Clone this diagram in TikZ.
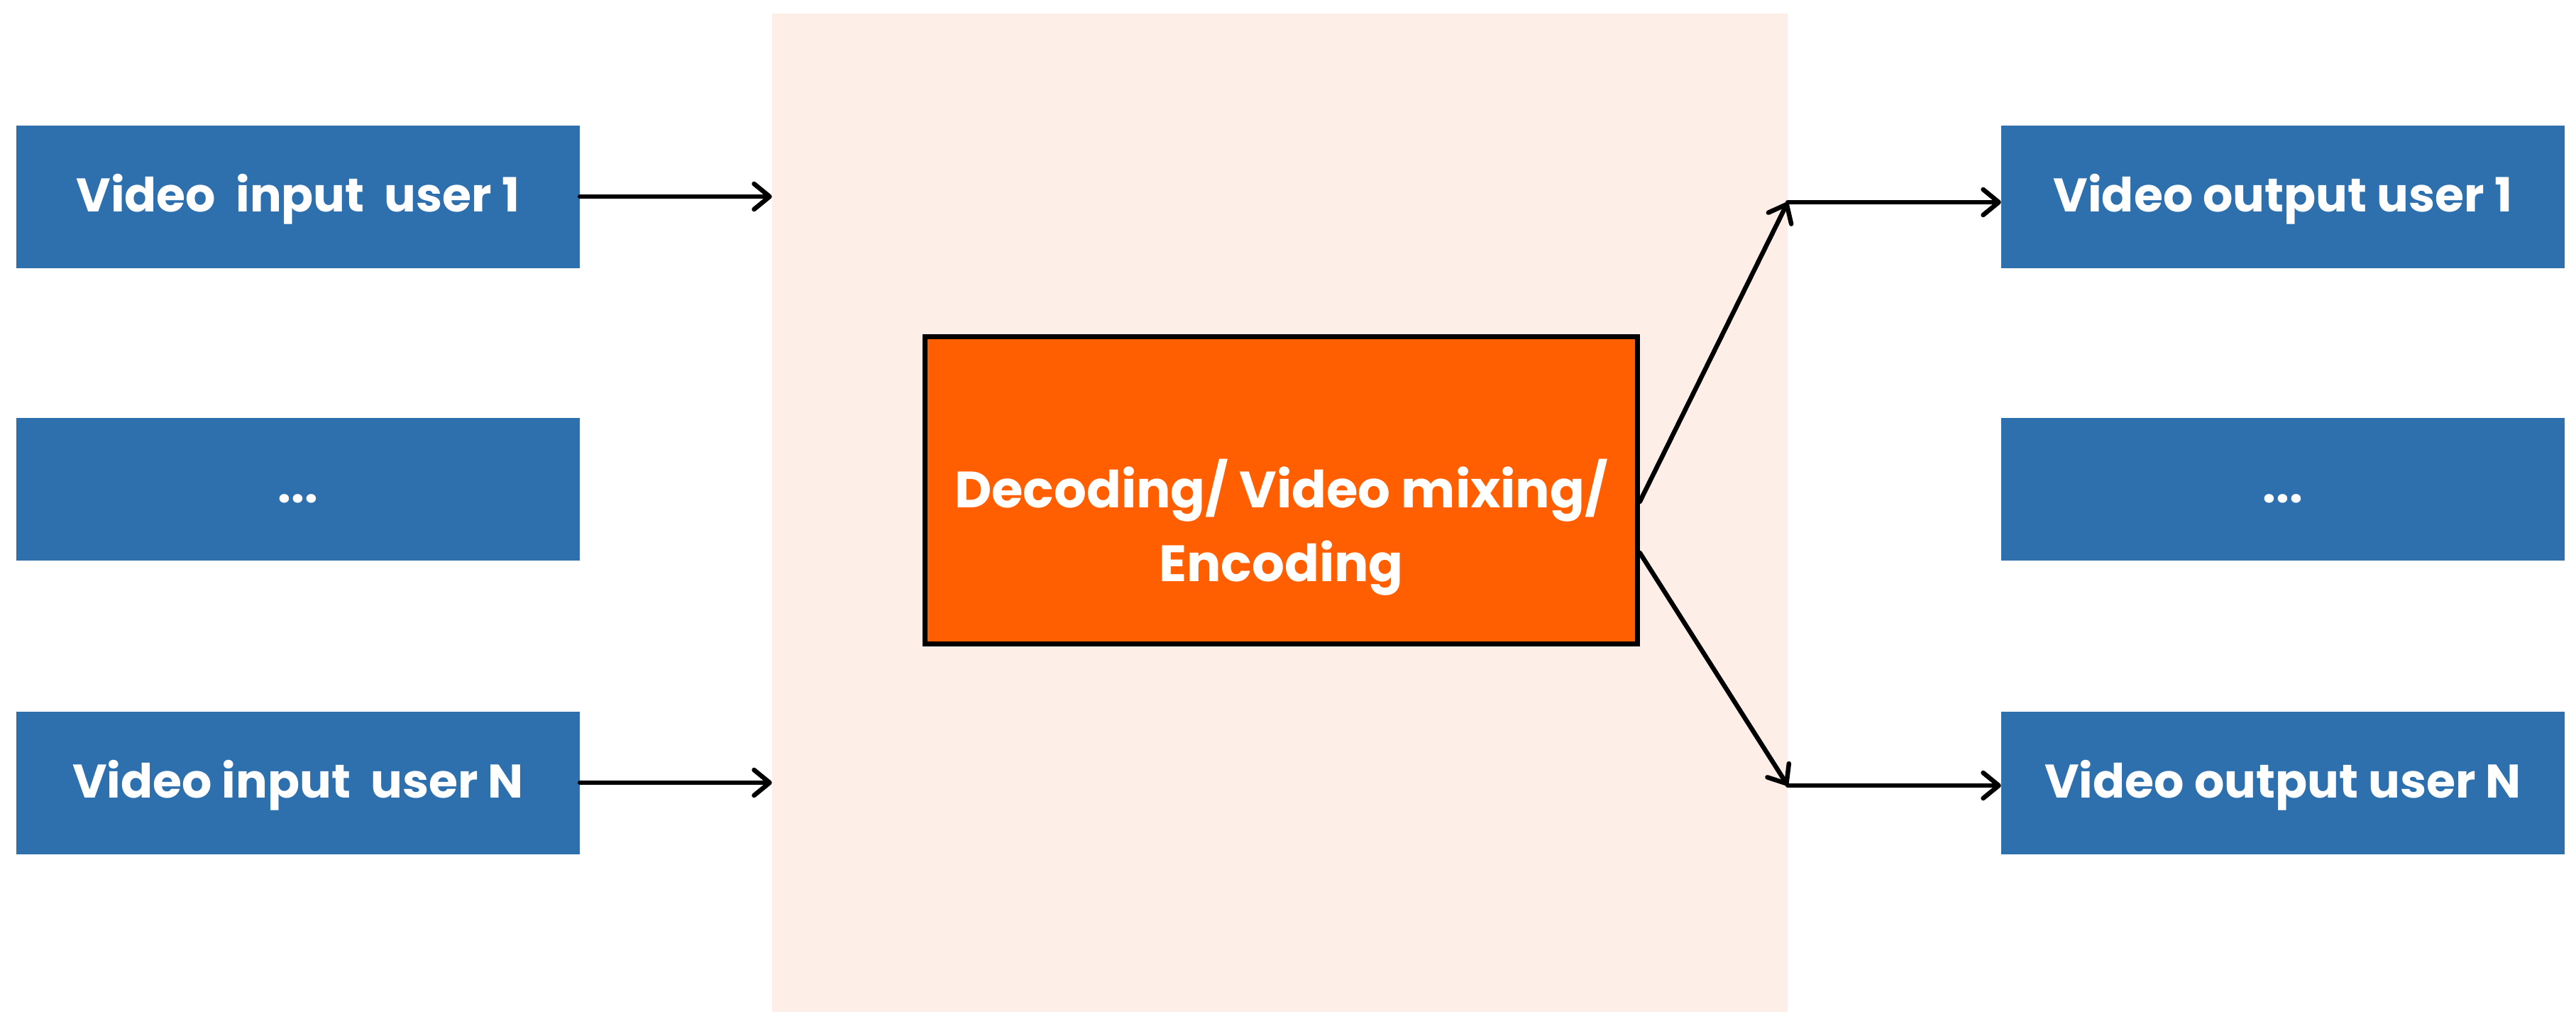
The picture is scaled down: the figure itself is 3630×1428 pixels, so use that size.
\documentclass[tikz,border=0pt]{standalone}
\usepackage{fontspec}
\setmainfont{Poppins}
\usetikzlibrary{arrows.meta,calc}
\definecolor{boxblue}{RGB}{46,112,173}
\definecolor{mixorange}{RGB}{255,95,0}
\definecolor{peach}{RGB}{253,239,232}
\tikzset{
  ubox/.style={fill=boxblue, draw=none, minimum width=794pt, minimum height=201pt, inner sep=0pt,
    text=white, font=\fontsize{66.5}{80}\selectfont\bfseries},
  boxtxt/.style={fill=none, draw=none, inner sep=0pt},
  conn/.style={line width=6.5pt, line cap=round, line join=round,
    -{Straight Barb[length=22pt,width=36pt,line width=6.5pt,round]}}
}
\begin{document}
\begin{tikzpicture}[x=1pt,y=-1pt]
\useasboundingbox (0,0) rectangle (3630,1428);
\fill[white] (0,0) rectangle (3630,1428);
\node[fill=peach, minimum width=1431pt, minimum height=1407pt, inner sep=0pt] (bg) at (1803.5,722.5) {};
\node[ubox] (in1) at (420,277) {};
\node[ubox] (ind) at (420,689) {};
\node[ubox] (inN) at (420,1103) {};
\node[ubox] (out1) at (3217,277) {};
\node[ubox] (outd) at (3217,689) {};
\node[ubox] (outN) at (3217,1103) {};
\node[ubox, boxtxt] (in1t) at ($(in1)+(0,4)$) {Video\ \ input\ \ user 1};
\node[ubox, boxtxt] (indt) at ($(ind)+(0,4)$) {\vphantom{dp}...};
\node[ubox, boxtxt] (inNt) at ($(inN)+(0,4)$) {Video input\ \ user N};
\node[ubox, boxtxt] (out1t) at ($(out1)+(0,4)$) {Video output user 1};
\node[ubox, boxtxt] (outdt) at ($(outd)+(0,4)$) {\vphantom{dp}...};
\node[ubox, boxtxt] (outNt) at ($(outN)+(0,4)$) {Video output user N};
\node[fill=mixorange, draw=black, line width=6.5pt, minimum width=1004pt, minimum height=433pt, inner sep=0pt] (mix) at (1805.5,691) {};
\node[text=white, align=center, inner sep=0pt, font=\fontsize{72}{104}\selectfont\bfseries] (mixt) at ($(mix)+(0,52)$)
  {Decoding/ Video mixing/\\Encoding};
\draw[conn] (in1.east) -- (in1.east -| bg.west);
\draw[conn] (inN.east) -- (inN.east -| bg.west);
\coordinate (s1) at ($(mix.east)+(0,16)$);
\coordinate (s2) at ($(mix.east)+(0,88)$);
\coordinate (c1) at ($(bg.east |- out1.west)+(0,8)$);
\coordinate (c2) at ($(bg.east |- outN.west)+(0,4)$);
\draw[conn] (s1) -- (c1);
\draw[conn] (s2) -- (c2);
\draw[conn] (c1) -- (c1 -| out1.west);
\draw[conn] (c2) -- (c2 -| outN.west);
\end{tikzpicture}
\end{document}
